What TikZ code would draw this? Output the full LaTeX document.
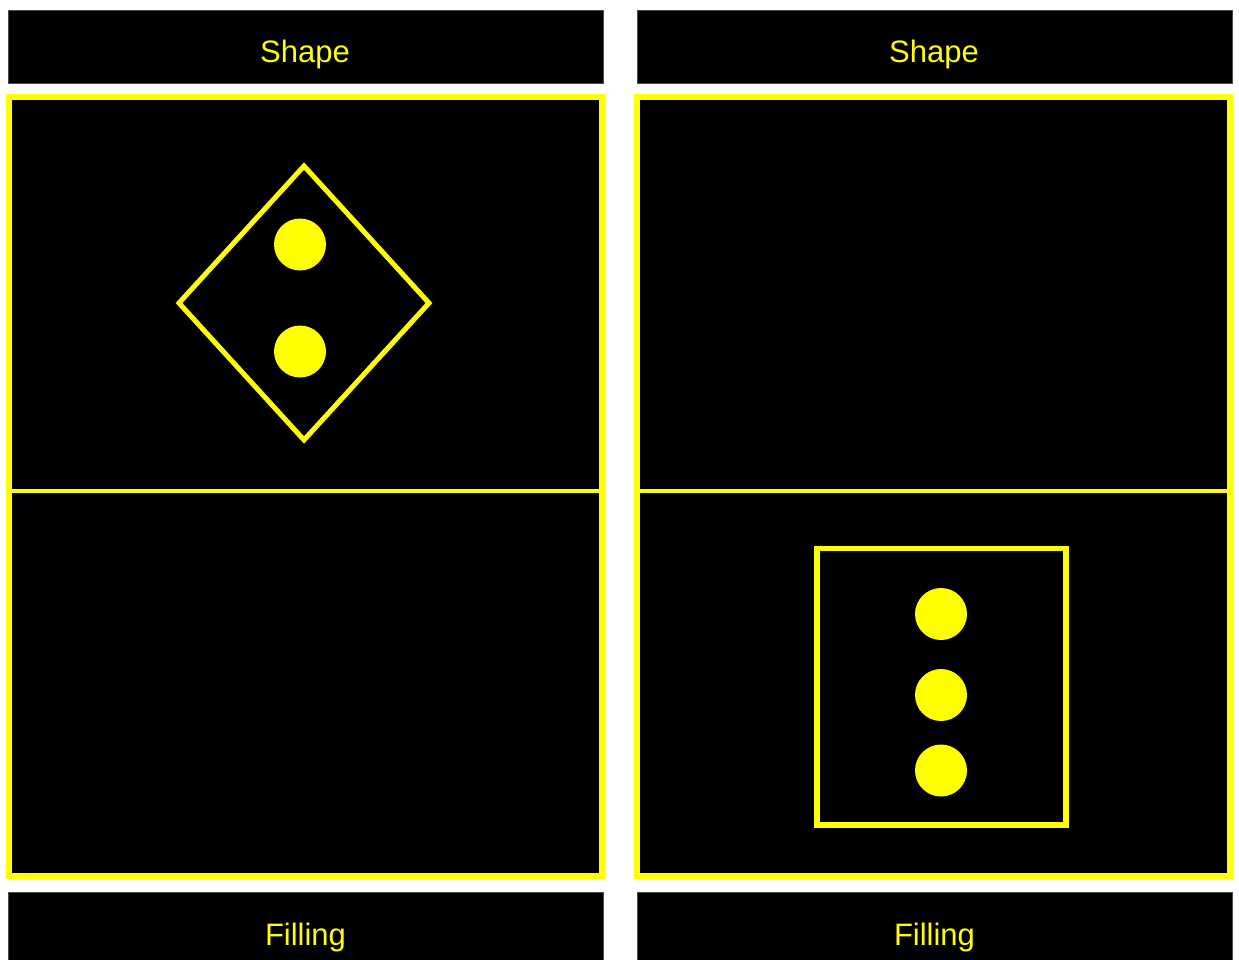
\documentclass[tikz,border=0pt]{standalone}
\usepackage{fontspec}
\setmainfont{Liberation Sans}
\definecolor{yel}{RGB}{255,255,0}
\begin{document}
\begin{tikzpicture}[x=1pt,y=-1pt,
  header/.style={fill=black,draw=black!70,line width=0.8pt,minimum width=595pt,inner sep=0pt,outer sep=0pt},
  label/.style={text=yel,font=\fontsize{31}{31}\selectfont,anchor=base,inner sep=0pt},
  frame/.style={draw=yel,line width=6pt,fill=black},
  divider/.style={draw=yel,line width=4.5pt},
  shapeline/.style={draw=yel,line width=5pt,miter limit=10},
  dot/.style={circle,fill=yel,minimum size=52pt,inner sep=0pt}]
\useasboundingbox (0,0) rectangle (1239,959);
\fill[white] (0,0) rectangle (1239,959);
% headers
\node[header,minimum height=73pt] (hl) at (305.5,46.5) {};
\node[header,minimum height=73pt] (hr) at (934.5,46.5) {};
\node[label] (tl) at (305,62.5) {Shape};
\node[label] (tr) at (934,62.5) {Shape};
\node[header,minimum height=70pt] (fl) at (305.5,927) {};
\node[header,minimum height=70pt] (fr) at (934.5,927) {};
\node[label] (bl) at (305.5,945) {Filling};
\node[label] (br) at (934.5,945) {Filling};
% frames
\draw[frame] (9,97) rectangle (602,876);
\draw[frame] (637,97) rectangle (1230,876);
\draw[divider] (9,491) -- (602,491);
\draw[divider] (637,491) -- (1230,491);
% diamond
\draw[shapeline] (304,166) -- (429,303) -- (304,440) -- (179,303) -- cycle;
\node[dot] (d1) at (300,244.5) {};
\node[dot] (d2) at (300,351.5) {};
% rectangle
\draw[shapeline,line width=5.5pt] (817,548.5) rectangle (1066,825);
\node[dot] (r1) at (941,614) {};
\node[dot] (r2) at (941,695) {};
\node[dot] (r3) at (941,770.5) {};
\end{tikzpicture}
\end{document}
